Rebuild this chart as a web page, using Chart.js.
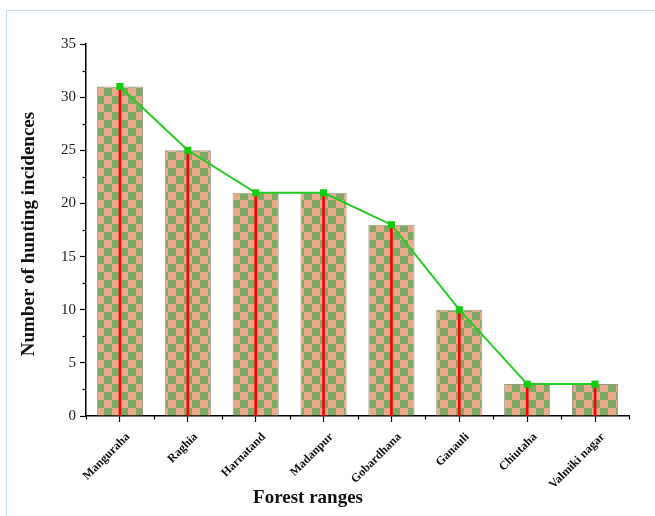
<!DOCTYPE html>
<html>
<head>
<meta charset="utf-8">
<script src="https://cdn.jsdelivr.net/npm/chart.js@4.4.1/dist/chart.umd.min.js"></script>
<style>
  html, body { margin: 0; padding: 0; background: #fff; overflow: hidden; }
  #frame { position: absolute; left: 6px; top: 10px; width: 700px; height: 600px; border: 1px solid #c9dff0; box-sizing: border-box; }
  #wrap { position: absolute; left: 0; top: 0; width: 655px; height: 516px; }
</style>
</head>
<body>
<div id="frame"></div>
<div id="wrap"><canvas id="c" width="655" height="516"></canvas></div>
<script>
const categories = ["Manguraha", "Raghia", "Harnatand", "Madanpur", "Gobardhana", "Ganauli", "Chiutaha", "Valmiki nagar"];
const incidences = [31, 25, 21, 21, 18, 10, 3, 3];
const yTicks = [0, 5, 10, 15, 20, 25, 30, 35];
const xTitle = "Forest ranges";
const yTitle = "Number of hunting incidences";

function makeChecker() {
  const s = 8;
  const c = document.createElement('canvas');
  c.width = s * 2; c.height = s * 2;
  const g = c.getContext('2d');
  g.fillStyle = '#e9aa8b'; g.fillRect(0, 0, s * 2, s * 2);
  g.fillStyle = '#7fa866';
  g.fillRect(0, 0, s, s); g.fillRect(s, s, s, s);
  return g.createPattern(c, 'repeat');
}

const SERIF = '"Liberation Serif", "Times New Roman", serif';

const extras = {
  id: 'extras',
  afterDraw(chart) {
    const ctx = chart.ctx;
    const x = chart.scales.x, y = chart.scales.y;
    ctx.save();
    ctx.strokeStyle = '#000';
    ctx.lineWidth = 1.2;
    // minor y ticks
    for (let i = 0; i < yTicks.length - 1; i++) {
      const v = (yTicks[i] + yTicks[i + 1]) / 2;
      const py = Math.round(y.getPixelForValue(v)) + 0.5;
      ctx.beginPath(); ctx.moveTo(x.left, py); ctx.lineTo(x.left - 3.5, py); ctx.stroke();
    }
    // minor x ticks at category boundaries
    for (let i = 0; i <= categories.length; i++) {
      const px = Math.round(x.getPixelForValue(i - 0.5)) + 0.5;
      ctx.beginPath(); ctx.moveTo(px, y.bottom); ctx.lineTo(px, y.bottom + 3.5); ctx.stroke();
    }
    // axis titles
    ctx.fillStyle = '#111';
    ctx.font = 'bold 19px ' + SERIF;
    ctx.textAlign = 'center';
    ctx.textBaseline = 'middle';
    ctx.fillText(xTitle, 308, 498);
    ctx.translate(29, 234);
    ctx.rotate(-Math.PI / 2);
    ctx.fillText(yTitle, 0, 0);
    ctx.restore();
  }
};

const ctx = document.getElementById('c').getContext('2d');
new Chart(ctx, {
  data: {
    labels: categories,
    datasets: [
      {
        type: 'line',
        data: incidences,
        borderColor: '#22cc22',
        backgroundColor: '#11cc11',
        borderWidth: 2,
        pointStyle: 'rect',
        pointRadius: 5,
        pointBorderWidth: 0,
        tension: 0,
        order: 0
      },
      {
        type: 'bar',
        data: incidences,
        backgroundColor: '#ff0000',
        borderWidth: 0,
        barThickness: 2,
        grouped: false,
        order: 1
      },
      {
        type: 'bar',
        data: incidences,
        backgroundColor: makeChecker(),
        borderColor: '#9a9a86',
        borderWidth: 1,
        barPercentage: 0.68,
        categoryPercentage: 1,
        grouped: false,
        order: 2
      }
    ]
  },
  options: {
    responsive: false,
    animation: false,
    events: [],
    layout: { padding: { left: 0, right: 26, top: 44, bottom: 0 } },
    plugins: { legend: { display: false }, tooltip: { enabled: false } },
    scales: {
      x: {
        type: 'category',
        offset: true,
        grid: { offset: false, drawOnChartArea: false, drawTicks: true, tickLength: 6, color: '#000', tickWidth: 1.2 },
        border: { display: true, color: '#000', width: 1.5 },
        ticks: {
          maxRotation: 45, minRotation: 45, padding: 8, labelOffset: 8, autoSkip: false,
          color: '#111', font: { family: SERIF, size: 12, weight: 'bold' }
        },
        afterFit(s) { s.height = 100; }
      },
      y: {
        min: 0, max: 35,
        grid: { drawOnChartArea: false, drawTicks: true, tickLength: 6, color: '#000', tickWidth: 1.2 },
        border: { display: true, color: '#000', width: 1.5 },
        ticks: {
          stepSize: 5, padding: 4, color: '#222',
          font: { family: SERIF, size: 15 }
        },
        afterFit(s) { s.width = 86; }
      }
    }
  },
  plugins: [extras]
});
</script>
</body>
</html>
